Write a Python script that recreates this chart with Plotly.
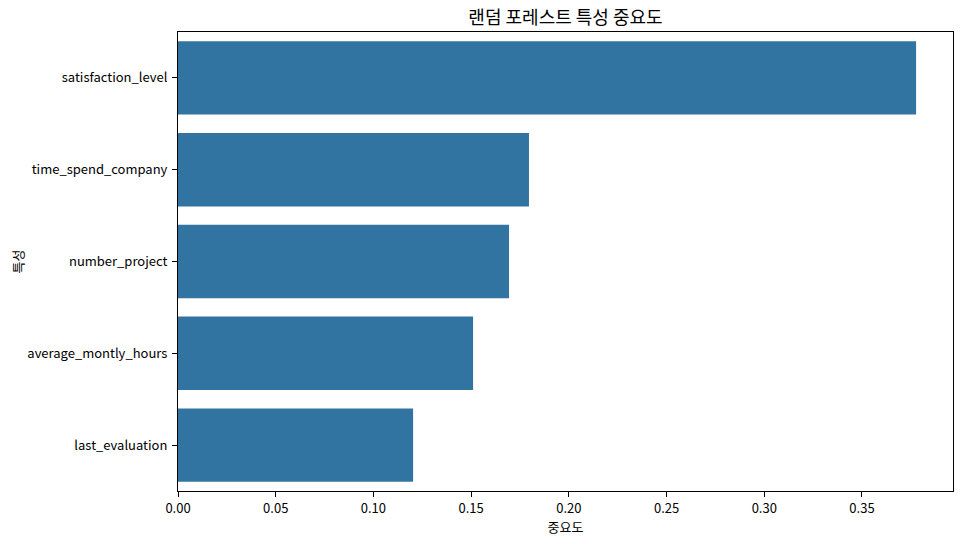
import plotly.graph_objects as go

# feature importance values
features = ['satisfaction_level', 'time_spend_company', 'number_project',
            'average_montly_hours', 'last_evaluation']
importance = [0.3777, 0.1796, 0.1694, 0.1510, 0.1203]
x_ticks = [0.00, 0.05, 0.10, 0.15, 0.20, 0.25, 0.30, 0.35]

bar_color = '#3274a1'
font_name = 'Noto Sans CJK KR'

# page body adds ~8px offset, so the figure is a bit smaller than the window
W, H = 954, 536
L, R, T, B = 170, 9, 24, 53

fig = go.Figure()
fig.add_trace(go.Bar(
    x=importance, y=features, orientation='h',
    marker=dict(color=bar_color, line=dict(width=0)),
    width=0.8,
))

axis_style = dict(
    showline=True, linecolor='black', linewidth=1, mirror=True,
    ticks='outside', ticklen=5, tickcolor='black', tickwidth=1,
    showgrid=False, zeroline=False, automargin=False,
    tickfont=dict(family=font_name, size=13, color='black'),
)

fig.update_layout(
    width=W, height=H,
    margin=dict(l=L, r=R, t=T, b=B),
    paper_bgcolor='white', plot_bgcolor='white',
    showlegend=False,
    font=dict(family=font_name, color='black'),
    title=dict(text='랜덤 포레스트 특성 중요도',
               x=(L + (W - R)) / 2 / W, xanchor='center',
               y=1 - 10 / H, yanchor='middle', pad=dict(t=0, b=0),
               font=dict(family=font_name, size=18, color='black')),
    xaxis=dict(range=[0, max(importance) * 1.05], tickvals=x_ticks,
               ticktext=['%.2f' % v for v in x_ticks],
               title=dict(text='중요도', standoff=4,
                          font=dict(family=font_name, size=13, color='black')),
               **axis_style),
    yaxis=dict(range=[4.5, -0.5], autorange=False, ticklabelstandoff=2,
               title=dict(text='특성', standoff=6,
                          font=dict(family=font_name, size=13, color='black')),
               **axis_style),
)

fig.write_html("out.html")
